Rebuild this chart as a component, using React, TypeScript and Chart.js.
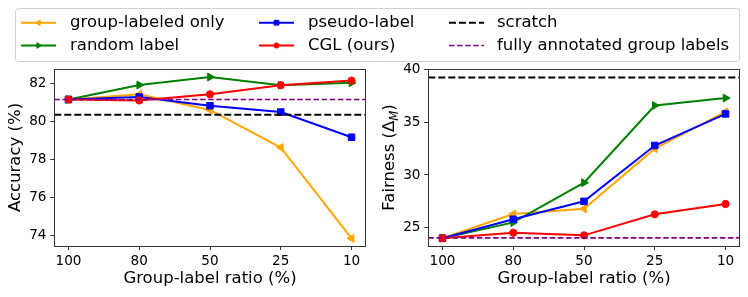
import React, { useEffect, useRef } from "react";
import { Chart, registerables } from "chart.js";

Chart.register(...registerables);

// ---------- data ----------
const categories = ["100", "80", "50", "25", "10"];

const accGroupOnly = [81.15, 81.42, 80.6, 78.63, 73.86];
const accRandom = [81.15, 81.91, 82.33, 81.9, 82.03];
const accPseudo = [81.15, 81.28, 80.82, 80.49, 79.17];
const accCGL = [81.15, 81.1, 81.42, 81.9, 82.14];
const accScratch = 80.35;
const accFull = 81.15;

const fairGroupOnly = [24.0, 26.3, 26.8, 32.5, 36.0];
const fairRandom = [24.0, 25.5, 29.27, 36.59, 37.3];
const fairPseudo = [24.0, 25.8, 27.5, 32.8, 35.8];
const fairCGL = [24.0, 24.52, 24.27, 26.27, 27.25];
const fairScratch = 39.25;
const fairFull = 24.03;

const accTicks = [74, 76, 78, 80, 82];
const fairTicks = [25, 30, 35, 40];

const seriesLabels = [
  "group-labeled only",
  "random label",
  "pseudo-label",
  "CGL (ours)",
  "scratch",
  "fully annotated group labels",
];

// ---------- styles ----------
const FONT = "'DejaVu Sans'";
const TICK_SIZE = 13.6;
const LABEL_SIZE = 16.5;

type Style = {
  color: string;
  point: string | null;
  rot: number;
  r: number;
  lr: number;
  lw: number;
  dash: number[] | null;
};

const styles: Style[] = [
  { color: "#FFA500", point: "triangle", rot: -90, r: 4.6, lr: 3.2, lw: 2, dash: null },
  { color: "#008000", point: "triangle", rot: 90, r: 4.6, lr: 3.2, lw: 2, dash: null },
  { color: "#0000FF", point: "rect", rot: 0, r: 4.6, lr: 3.4, lw: 2, dash: null },
  { color: "#FF0000", point: "circle", rot: 0, r: 3.6, lr: 2.6, lw: 2, dash: null },
  { color: "#000000", point: null, rot: 0, r: 0, lr: 0, lw: 2, dash: [7, 3] },
  { color: "#800080", point: null, rot: 0, r: 0, lr: 0, lw: 1.6, dash: [5.5, 2.6] },
];

const X_MIN = -0.2;
const X_MAX = 4.2;

function lineDataset(idx: number, values: number[]) {
  const s = styles[idx];
  return {
    label: seriesLabels[idx],
    data: values.map((v, i) => ({ x: i, y: v })),
    borderColor: s.color,
    backgroundColor: s.color,
    borderWidth: s.lw,
    pointStyle: s.point as any,
    pointRotation: s.rot,
    pointRadius: s.r,
    pointBorderWidth: 1,
    pointBackgroundColor: s.color,
    pointBorderColor: s.color,
    tension: 0,
    order: 6 - idx,
  };
}

function hlineDataset(idx: number, value: number) {
  const s = styles[idx];
  return {
    label: seriesLabels[idx],
    data: [
      { x: X_MIN, y: value },
      { x: X_MAX, y: value },
    ],
    borderColor: s.color,
    backgroundColor: s.color,
    borderWidth: s.lw,
    borderDash: s.dash as number[],
    pointRadius: 0,
    tension: 0,
    order: 6 - idx,
  };
}

function drawMarker(
  ctx: CanvasRenderingContext2D,
  style: string,
  x: number,
  y: number,
  r: number,
  rot: number,
  color: string
) {
  ctx.beginPath();
  if (style === "circle") {
    ctx.arc(x, y, r, 0, Math.PI * 2);
  } else if (style === "rect") {
    const h = r * Math.SQRT1_2;
    ctx.rect(x - h, y - h, 2 * h, 2 * h);
  } else if (style === "triangle") {
    let rad = (rot * Math.PI) / 180;
    for (let k = 0; k < 3; k++) {
      const px = x + Math.sin(rad) * r;
      const py = y - Math.cos(rad) * r;
      if (k === 0) ctx.moveTo(px, py);
      else ctx.lineTo(px, py);
      rad += (2 * Math.PI) / 3;
    }
  }
  ctx.closePath();
  ctx.fillStyle = color;
  ctx.strokeStyle = color;
  ctx.lineWidth = 1;
  ctx.setLineDash([]);
  ctx.fill();
  ctx.stroke();
}

// frame around plot area
const framePlugin = {
  id: "frame",
  afterDraw(chart: any) {
    const { ctx, chartArea } = chart;
    ctx.save();
    ctx.strokeStyle = "#333333";
    ctx.lineWidth = 1;
    ctx.setLineDash([]);
    ctx.strokeRect(
      Math.round(chartArea.left) + 0.5,
      Math.round(chartArea.top) + 0.5,
      Math.round(chartArea.right - chartArea.left),
      Math.round(chartArea.bottom - chartArea.top)
    );
    ctx.restore();
  },
};

// legend columns (matplotlib ncol=3, column-major)
const legendCols = [
  { hx: 21, tx: 70 },
  { hx: 259, tx: 308 },
  { hx: 449, tx: 497 },
];
const legendRows = [22.7, 45.5];
const HANDLE_LEN = 35;

const legendPlugin = {
  id: "mplLegend",
  afterDraw(chart: any) {
    const ctx: CanvasRenderingContext2D = chart.ctx;
    ctx.save();
    // box
    const bx = 15.5,
      by = 8.5,
      bw = 724,
      bh = 53,
      rr = 3;
    ctx.beginPath();
    ctx.moveTo(bx + rr, by);
    ctx.lineTo(bx + bw - rr, by);
    ctx.quadraticCurveTo(bx + bw, by, bx + bw, by + rr);
    ctx.lineTo(bx + bw, by + bh - rr);
    ctx.quadraticCurveTo(bx + bw, by + bh, bx + bw - rr, by + bh);
    ctx.lineTo(bx + rr, by + bh);
    ctx.quadraticCurveTo(bx, by + bh, bx, by + bh - rr);
    ctx.lineTo(bx, by + rr);
    ctx.quadraticCurveTo(bx, by, bx + rr, by);
    ctx.closePath();
    ctx.fillStyle = "rgba(255,255,255,0.8)";
    ctx.fill();
    ctx.strokeStyle = "#d0d0d0";
    ctx.lineWidth = 1;
    ctx.stroke();

    ctx.font = `${LABEL_SIZE}px ${FONT}`;
    ctx.textBaseline = "middle";
    ctx.textAlign = "left";
    seriesLabels.forEach((label, i) => {
      const s = styles[i];
      const col = legendCols[Math.floor(i / 2)];
      const y = legendRows[i % 2];
      ctx.beginPath();
      ctx.strokeStyle = s.color;
      ctx.lineWidth = s.lw;
      ctx.setLineDash(s.dash ? s.dash : []);
      ctx.moveTo(col.hx, y);
      ctx.lineTo(col.hx + HANDLE_LEN, y);
      ctx.stroke();
      ctx.setLineDash([]);
      if (s.point) {
        drawMarker(ctx, s.point, col.hx + HANDLE_LEN / 2, y, s.lr, s.rot, s.color);
      }
      ctx.fillStyle = "#000";
      ctx.font = `${LABEL_SIZE}px ${FONT}`;
      ctx.fillText(label, col.tx, y);
    });
    ctx.restore();
  },
};

// right y-axis title with subscript
const fairTitlePlugin = {
  id: "fairTitle",
  afterDraw(chart: any) {
    const { ctx, chartArea } = chart;
    ctx.save();
    ctx.translate(388.3, (chartArea.top + chartArea.bottom) / 2);
    ctx.rotate(-Math.PI / 2);
    ctx.fillStyle = "#000";
    ctx.textBaseline = "alphabetic";
    ctx.textAlign = "left";
    const main = `${LABEL_SIZE}px ${FONT}`;
    const sub = `italic ${LABEL_SIZE * 0.7}px ${FONT}`;
    const parts: [string, string, number][] = [
      ["Fairness (Δ", main, 0],
      ["M", sub, 3.5],
      [")", main, 0],
    ];
    let total = 0;
    const widths = parts.map(([t, f]) => {
      ctx.font = f;
      const w = ctx.measureText(t).width;
      total += w;
      return w;
    });
    let x = -total / 2;
    const base = LABEL_SIZE * 0.36;
    parts.forEach(([t, f, dy], i) => {
      ctx.font = f;
      ctx.fillText(t, x, base + dy);
      x += widths[i];
    });
    ctx.restore();
  },
};

function makeConfig(opts: {
  datasets: any[];
  yMin: number;
  yMax: number;
  yTicks: number[];
  padLeft: number;
  padRight: number;
  yWidth: number;
  yTitle: string | null;
  plugins: any[];
}) {
  return {
    type: "line" as const,
    data: { datasets: opts.datasets },
    plugins: opts.plugins,
    options: {
      animation: false as const,
      responsive: false,
      devicePixelRatio: 1,
      events: [],
      layout: {
        padding: { left: opts.padLeft, right: opts.padRight, top: 69, bottom: 0 },
      },
      plugins: {
        legend: { display: false },
        tooltip: { enabled: false },
        title: { display: false },
      },
      scales: {
        x: {
          type: "linear" as const,
          min: X_MIN,
          max: X_MAX,
          afterBuildTicks: (s: any) => {
            s.ticks = categories.map((_, i) => ({ value: i }));
          },
          afterFit: (s: any) => {
            s.height = 51;
          },
          ticks: {
            callback: (v: any) => categories[Number(v)],
            font: { family: FONT, size: TICK_SIZE },
            color: "#000",
            padding: 3,
            autoSkip: false,
            maxRotation: 0,
            minRotation: 0,
          },
          grid: {
            display: true,
            drawOnChartArea: false,
            drawTicks: true,
            tickLength: 4,
            color: "#333333",
            lineWidth: 1,
          },
          border: { display: false },
          title: {
            display: true,
            text: "Group-label ratio (%)",
            font: { family: FONT, size: LABEL_SIZE },
            color: "#000",
            padding: { top: 0, bottom: 8 },
          },
        },
        y: {
          type: "linear" as const,
          min: opts.yMin,
          max: opts.yMax,
          afterBuildTicks: (s: any) => {
            s.ticks = opts.yTicks.map((v) => ({ value: v }));
          },
          afterFit: (s: any) => {
            s.width = opts.yWidth;
          },
          ticks: {
            font: { family: FONT, size: TICK_SIZE },
            color: "#000",
            padding: 3.8,
          },
          grid: {
            display: true,
            drawOnChartArea: false,
            drawTicks: true,
            tickLength: 4,
            color: "#333333",
            lineWidth: 1,
          },
          border: { display: false },
          title: {
            display: opts.yTitle !== null,
            text: opts.yTitle || "",
            font: { family: FONT, size: LABEL_SIZE },
            color: "#000",
            padding: { top: 6.3, bottom: 0 },
          },
        },
      },
    },
  };
}

export default function App() {
  const leftRef = useRef<HTMLCanvasElement>(null);
  const rightRef = useRef<HTMLCanvasElement>(null);

  useEffect(() => {
    Chart.defaults.font.family = FONT;
    const left = new Chart(
      leftRef.current as HTMLCanvasElement,
      makeConfig({
        datasets: [
          lineDataset(0, accGroupOnly),
          lineDataset(1, accRandom),
          lineDataset(2, accPseudo),
          lineDataset(3, accCGL),
          hlineDataset(4, accScratch),
          hlineDataset(5, accFull),
        ],
        yMin: 73.46,
        yMax: 82.75,
        yTicks: accTicks,
        padLeft: 0,
        padRight: 748 - 365.7,
        yWidth: 54.3,
        yTitle: "Accuracy (%)",
        plugins: [framePlugin, legendPlugin],
      }) as any
    );
    const right = new Chart(
      rightRef.current as HTMLCanvasElement,
      makeConfig({
        datasets: [
          lineDataset(0, fairGroupOnly),
          lineDataset(1, fairRandom),
          lineDataset(2, fairPseudo),
          lineDataset(3, fairCGL),
          hlineDataset(4, fairScratch),
          hlineDataset(5, fairFull),
        ],
        yMin: 23.26,
        yMax: 40.06,
        yTicks: fairTicks,
        padLeft: 372,
        padRight: 748 - 739.7,
        yWidth: 428.3 - 372,
        yTitle: null,
        plugins: [framePlugin, fairTitlePlugin],
      }) as any
    );
    return () => {
      left.destroy();
      right.destroy();
    };
  }, []);

  const canvasStyle: React.CSSProperties = {
    position: "absolute",
    left: 0,
    top: 0,
    width: 748,
    height: 297,
  };

  return (
    <div
      style={{
        position: "absolute",
        left: 0,
        top: 0,
        width: 748,
        height: 297,
        background: "#fff",
      }}
    >
      <canvas ref={leftRef} width={748} height={297} style={canvasStyle} />
      <canvas ref={rightRef} width={748} height={297} style={canvasStyle} />
    </div>
  );
}
